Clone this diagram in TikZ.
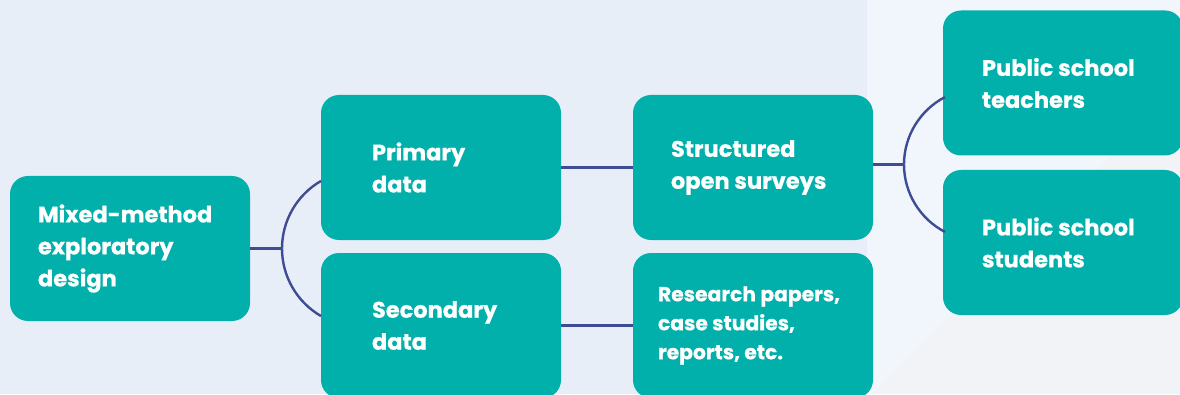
\documentclass[tikz,border=0pt]{standalone}
\usepackage{fontspec}
\setmainfont{Poppins}[BoldFeatures={FakeBold=0.6}]
\usetikzlibrary{positioning}
\definecolor{boxteal}{HTML}{01B0AA}
\definecolor{linkblue}{HTML}{3D4C94}
\definecolor{bgleft}{HTML}{E8EEF8}
\definecolor{bgright}{HTML}{F1F5FC}
\definecolor{bggray}{HTML}{F2F3F6}

\begin{document}
\begin{tikzpicture}[x=1pt,y=1pt]
\tikzstyle{stage}=[rectangle, rounded corners=18pt, fill=boxteal, minimum width=240pt, minimum height=145pt, inner sep=0pt]
\tikzstyle{words}=[text=white, font=\bfseries\fontsize{22.5}{32}\selectfont, align=left, inner sep=0pt]
\tikzstyle{small}=[words, font=\bfseries\fontsize{20.3}{29}\selectfont]
\tikzstyle{link}=[draw=linkblue, line width=2.4pt]

  % background panels
  \fill[bgleft] (0,0) rectangle (867,394);
  \fill[bgright] (867,0) rectangle (1180,394);
  \fill[bggray] (873,0) -- (1180,307) -- (1180,0) -- cycle;
  \useasboundingbox (0,0) rectangle (1180,394);

  \coordinate (fork1) at (282,145.5);
  \coordinate (fork2) at (904,229.5);

  \node[stage] (mixed)     at (130,145.5)  {};
  \node[stage] (primary)   at (441,226.5)  {};
  \node[stage] (secondary) at (441,68.5)   {};
  \node[stage] (surveys)   at (753,226.5)  {};
  \node[stage] (sources)   at (753,68.5)   {};
  \node[stage] (teachers)  at (1063,311)   {};
  \node[stage] (students)  at (1063,151.5) {};

  \node[words, right=28pt of mixed.west]     (mixedtxt)     {Mixed-method\\exploratory\\design};
  \node[words, right=51pt of primary.west]   (primarytxt)   {Primary\\data};
  \node[words, right=51pt of secondary.west] (secondarytxt) {Secondary\\data};
  \node[words, right=38pt of surveys.west]   (surveystxt)   {Structured\\open surveys};
  \node[small, right=25pt of sources.west]   (sourcestxt)   {Research papers,\\case studies,\\reports, etc.};
  \node[words, right=39pt of teachers.west]  (teacherstxt)  {Public school\\teachers};
  \node[words, right=39pt of students.west]  (studentstxt)  {Public school\\students};

  \draw[link] (mixed.east) -- (fork1);
  \draw[link] (fork1) arc[start angle=180, end angle=120, radius=78];
  \draw[link] (fork1) arc[start angle=180, end angle=240, radius=78];
  \draw[link] (primary) -- (surveys);
  \draw[link] (secondary) -- (sources);
  \draw[link] (surveys.east |- fork2) -- (fork2);
  \draw[link] (fork2) arc[start angle=180, end angle=117.5, radius=76];
  \draw[link] (fork2) arc[start angle=180, end angle=242.5, radius=76];

\end{tikzpicture}
\end{document}
